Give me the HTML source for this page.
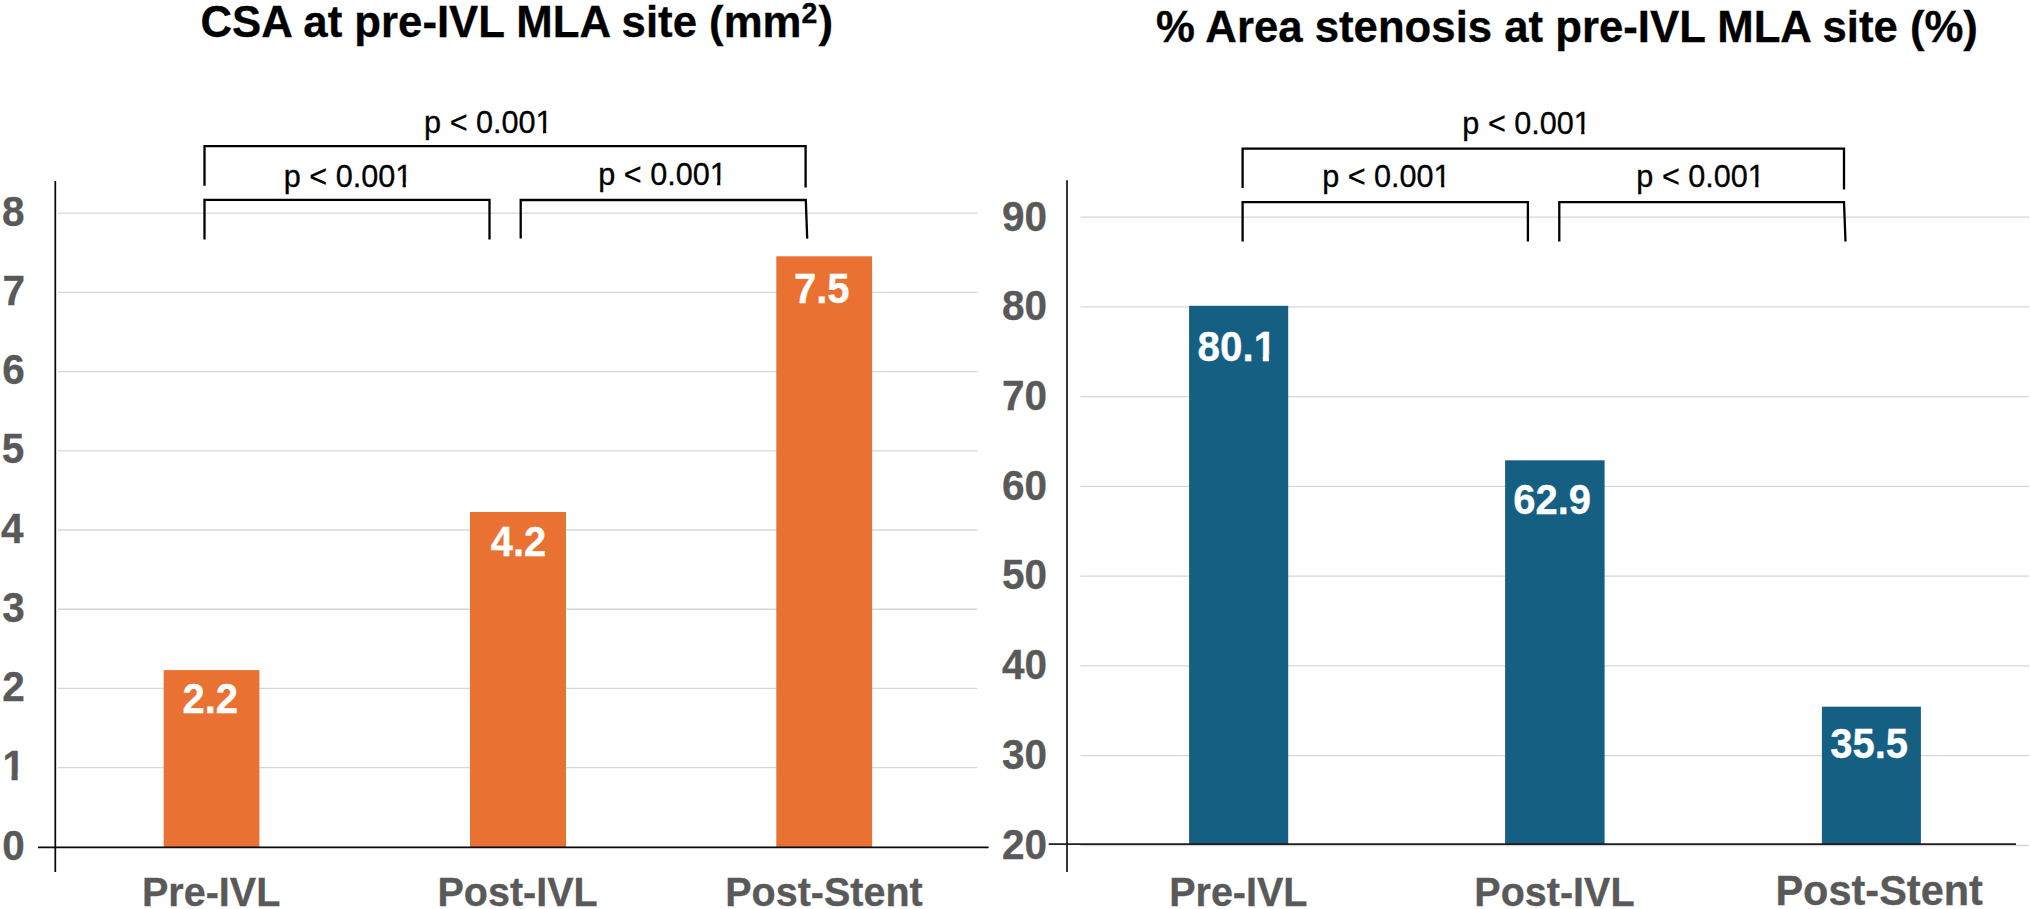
<!DOCTYPE html>
<html><head><meta charset="utf-8"><style>
html,body{margin:0;padding:0;background:#fff;width:2030px;height:909px;overflow:hidden}
svg{display:block}
text{font-family:"Liberation Sans",sans-serif}
</style></head><body>
<svg width="2030" height="909" viewBox="0 0 2030 909">
<rect x="0" y="0" width="2030" height="909" fill="#fff"/>
<line x1="58.00" y1="767.68" x2="977.40" y2="767.68" stroke="#D6D6D6" stroke-width="1.3"/>
<line x1="58.00" y1="688.46" x2="977.40" y2="688.46" stroke="#D6D6D6" stroke-width="1.3"/>
<line x1="58.00" y1="609.24" x2="977.40" y2="609.24" stroke="#D6D6D6" stroke-width="1.3"/>
<line x1="58.00" y1="530.02" x2="977.40" y2="530.02" stroke="#D6D6D6" stroke-width="1.3"/>
<line x1="58.00" y1="450.80" x2="977.40" y2="450.80" stroke="#D6D6D6" stroke-width="1.3"/>
<line x1="58.00" y1="371.58" x2="977.40" y2="371.58" stroke="#D6D6D6" stroke-width="1.3"/>
<line x1="58.00" y1="292.36" x2="977.40" y2="292.36" stroke="#D6D6D6" stroke-width="1.3"/>
<line x1="58.00" y1="213.14" x2="977.40" y2="213.14" stroke="#D6D6D6" stroke-width="1.3"/>
<g transform="translate(2.34,859.60) scale(1,1.04)"><text font-size="40.5" font-weight="700" fill="#595959" stroke="#595959" stroke-width="0.3">0</text></g>
<g transform="translate(2.41,779.90) scale(1,1.04)"><text font-size="40.5" font-weight="700" fill="#595959" stroke="#595959" stroke-width="0.3">1</text><rect x="1.05" y="-5.77" width="8.12" height="7.77" fill="#fff"/><rect x="15.25" y="-5.77" width="7.59" height="7.77" fill="#fff"/></g>
<g transform="translate(2.34,701.10) scale(1,1.04)"><text font-size="40.5" font-weight="700" fill="#595959" stroke="#595959" stroke-width="0.3">2</text></g>
<g transform="translate(2.14,621.85) scale(1,1.04)"><text font-size="40.5" font-weight="700" fill="#595959" stroke="#595959" stroke-width="0.3">3</text></g>
<g transform="translate(0.92,542.60) scale(1,1.04)"><text font-size="40.5" font-weight="700" fill="#595959" stroke="#595959" stroke-width="0.3">4</text></g>
<g transform="translate(1.84,463.35) scale(1,1.04)"><text font-size="40.5" font-weight="700" fill="#595959" stroke="#595959" stroke-width="0.3">5</text></g>
<g transform="translate(2.14,384.10) scale(1,1.04)"><text font-size="40.5" font-weight="700" fill="#595959" stroke="#595959" stroke-width="0.3">6</text></g>
<g transform="translate(2.44,304.85) scale(1,1.04)"><text font-size="40.5" font-weight="700" fill="#595959" stroke="#595959" stroke-width="0.3">7</text></g>
<g transform="translate(1.94,225.60) scale(1,1.04)"><text font-size="40.5" font-weight="700" fill="#595959" stroke="#595959" stroke-width="0.3">8</text></g>
<rect x="163.70" y="670.10" width="95.70" height="177.30" fill="#E97132"/>
<rect x="470.00" y="512.00" width="96.00" height="335.40" fill="#E97132"/>
<rect x="776.30" y="256.30" width="95.80" height="591.10" fill="#E97132"/>
<line x1="55.30" y1="181.00" x2="55.30" y2="872.10" stroke="#080808" stroke-width="1.75"/>
<line x1="38.00" y1="847.40" x2="988.60" y2="847.40" stroke="#080808" stroke-width="1.75"/>
<g transform="translate(182.45,712.90) scale(1,1.04)"><text font-size="40" font-weight="700" fill="#fff" stroke="#fff" stroke-width="0.3">2.2</text></g>
<g transform="translate(490.65,555.50) scale(1,1.04)"><text font-size="40" font-weight="700" fill="#fff" stroke="#fff" stroke-width="0.3">4.2</text></g>
<g transform="translate(794.00,302.90) scale(1,1.04)"><text font-size="40" font-weight="700" fill="#fff" stroke="#fff" stroke-width="0.3">7.5</text></g>
<g transform="translate(142.03,905.90) scale(1,1.04)"><text font-size="39.5" font-weight="700" fill="#595959" stroke="#595959" stroke-width="0.3">Pre-IVL</text></g>
<g transform="translate(437.52,905.90) scale(1,1.04)"><text font-size="39.5" font-weight="700" fill="#595959" stroke="#595959" stroke-width="0.3">Post-IVL</text></g>
<g transform="translate(725.26,905.90) scale(1,1.04)"><text font-size="39.5" font-weight="700" fill="#595959" stroke="#595959" stroke-width="0.3">Post-Stent</text></g>
<polyline points="204.50,185.80 204.50,146.20 805.60,146.20 805.60,187.60" fill="none" stroke="#000" stroke-width="2.3" stroke-linejoin="miter"/>
<polyline points="204.50,239.40 204.50,199.80 489.50,199.80 489.50,239.40" fill="none" stroke="#000" stroke-width="2.3" stroke-linejoin="miter"/>
<polyline points="520.70,238.60 520.70,200.00 805.80,200.00 807.20,238.60" fill="none" stroke="#000" stroke-width="2.3" stroke-linejoin="miter"/>
<g transform="translate(424.12,133.40) scale(1,1.04)"><text font-size="30.6" font-weight="400" fill="#000" stroke="#000" stroke-width="0.3">p &lt; 0.001</text><rect x="112.27" y="-3.93" width="6.58" height="5.93" fill="#fff"/><rect x="122.09" y="-3.93" width="6.34" height="5.93" fill="#fff"/></g>
<g transform="translate(283.77,186.60) scale(1,1.04)"><text font-size="30.6" font-weight="400" fill="#000" stroke="#000" stroke-width="0.3">p &lt; 0.001</text><rect x="112.27" y="-3.93" width="6.58" height="5.93" fill="#fff"/><rect x="122.09" y="-3.93" width="6.34" height="5.93" fill="#fff"/></g>
<g transform="translate(598.27,184.70) scale(1,1.04)"><text font-size="30.6" font-weight="400" fill="#000" stroke="#000" stroke-width="0.3">p &lt; 0.001</text><rect x="112.27" y="-3.93" width="6.58" height="5.93" fill="#fff"/><rect x="122.09" y="-3.93" width="6.34" height="5.93" fill="#fff"/></g>
<g transform="translate(200.45,36.50) scale(1,1.02)"><text font-size="43.75" font-weight="700" fill="#000" stroke="#000" stroke-width="0.3">CSA at pre-IVL MLA site (mm</text></g>
<g transform="translate(801.51,22.80) scale(1,1.04)"><text font-size="28.5" font-weight="700" fill="#000" stroke="#000" stroke-width="0.3">2</text></g>
<g transform="translate(818.52,36.50) scale(1,1.0)"><text font-size="43.75" font-weight="700" fill="#000" stroke="#000" stroke-width="0.3">)</text></g>
<line x1="1080.40" y1="755.70" x2="2029.00" y2="755.70" stroke="#D6D6D6" stroke-width="1.3"/>
<line x1="1080.40" y1="665.94" x2="2029.00" y2="665.94" stroke="#D6D6D6" stroke-width="1.3"/>
<line x1="1080.40" y1="576.18" x2="2029.00" y2="576.18" stroke="#D6D6D6" stroke-width="1.3"/>
<line x1="1080.40" y1="486.42" x2="2029.00" y2="486.42" stroke="#D6D6D6" stroke-width="1.3"/>
<line x1="1080.40" y1="396.66" x2="2029.00" y2="396.66" stroke="#D6D6D6" stroke-width="1.3"/>
<line x1="1080.40" y1="306.90" x2="2029.00" y2="306.90" stroke="#D6D6D6" stroke-width="1.3"/>
<line x1="1080.40" y1="217.14" x2="2029.00" y2="217.14" stroke="#D6D6D6" stroke-width="1.3"/>
<line x1="1080.40" y1="845.50" x2="2029.00" y2="845.50" stroke="#D6D6D6" stroke-width="1.3"/>
<g transform="translate(1002.07,858.50) scale(1,1.04)"><text font-size="40.5" font-weight="700" fill="#595959" stroke="#595959" stroke-width="0.3">20</text></g>
<g transform="translate(1002.07,768.80) scale(1,1.04)"><text font-size="40.5" font-weight="700" fill="#595959" stroke="#595959" stroke-width="0.3">30</text></g>
<g transform="translate(1002.07,679.10) scale(1,1.04)"><text font-size="40.5" font-weight="700" fill="#595959" stroke="#595959" stroke-width="0.3">40</text></g>
<g transform="translate(1002.07,589.40) scale(1,1.04)"><text font-size="40.5" font-weight="700" fill="#595959" stroke="#595959" stroke-width="0.3">50</text></g>
<g transform="translate(1002.07,499.70) scale(1,1.04)"><text font-size="40.5" font-weight="700" fill="#595959" stroke="#595959" stroke-width="0.3">60</text></g>
<g transform="translate(1002.07,410.00) scale(1,1.04)"><text font-size="40.5" font-weight="700" fill="#595959" stroke="#595959" stroke-width="0.3">70</text></g>
<g transform="translate(1002.07,320.30) scale(1,1.04)"><text font-size="40.5" font-weight="700" fill="#595959" stroke="#595959" stroke-width="0.3">80</text></g>
<g transform="translate(1002.07,230.60) scale(1,1.04)"><text font-size="40.5" font-weight="700" fill="#595959" stroke="#595959" stroke-width="0.3">90</text></g>
<rect x="1189.10" y="305.80" width="99.10" height="538.50" fill="#156082"/>
<rect x="1505.10" y="460.30" width="99.50" height="384.00" fill="#156082"/>
<rect x="1821.90" y="706.70" width="99.00" height="137.60" fill="#156082"/>
<line x1="1067.00" y1="180.20" x2="1067.00" y2="872.00" stroke="#1e1e1e" stroke-width="1.8"/>
<line x1="1048.70" y1="844.20" x2="2016.00" y2="844.20" stroke="#1e1e1e" stroke-width="1.8"/>
<g transform="translate(1197.49,361.30) scale(1,1.04)"><text font-size="40.4" font-weight="700" fill="#fff" stroke="#fff" stroke-width="0.3">80.1</text><rect x="57.21" y="-5.76" width="8.10" height="7.76" fill="#156082"/><rect x="71.38" y="-5.76" width="7.57" height="7.76" fill="#156082"/></g>
<g transform="translate(1513.15,514.30) scale(1,1.04)"><text font-size="40" font-weight="700" fill="#fff" stroke="#fff" stroke-width="0.3">62.9</text></g>
<g transform="translate(1830.20,758.00) scale(1,1.04)"><text font-size="40" font-weight="700" fill="#fff" stroke="#fff" stroke-width="0.3">35.5</text></g>
<g transform="translate(1169.18,905.60) scale(1,1.04)"><text font-size="39.5" font-weight="700" fill="#595959" stroke="#595959" stroke-width="0.3">Pre-IVL</text></g>
<g transform="translate(1474.37,905.60) scale(1,1.04)"><text font-size="39.5" font-weight="700" fill="#595959" stroke="#595959" stroke-width="0.3">Post-IVL</text></g>
<g transform="translate(1775.41,904.70) scale(1,1.04)"><text font-size="41.5" font-weight="700" fill="#595959" stroke="#595959" stroke-width="0.3">Post-Stent</text></g>
<polyline points="1242.60,187.90 1242.60,148.60 1844.00,148.60 1844.00,189.60" fill="none" stroke="#000" stroke-width="2.3" stroke-linejoin="miter"/>
<polyline points="1242.60,241.50 1242.60,202.20 1527.90,202.20 1527.90,241.50" fill="none" stroke="#000" stroke-width="2.3" stroke-linejoin="miter"/>
<polyline points="1559.30,241.50 1559.30,202.20 1844.00,202.20 1845.50,241.50" fill="none" stroke="#000" stroke-width="2.3" stroke-linejoin="miter"/>
<g transform="translate(1462.37,133.50) scale(1,1.04)"><text font-size="30.6" font-weight="400" fill="#000" stroke="#000" stroke-width="0.3">p &lt; 0.001</text><rect x="112.27" y="-3.93" width="6.58" height="5.93" fill="#fff"/><rect x="122.09" y="-3.93" width="6.34" height="5.93" fill="#fff"/></g>
<g transform="translate(1322.22,187.10) scale(1,1.04)"><text font-size="30.6" font-weight="400" fill="#000" stroke="#000" stroke-width="0.3">p &lt; 0.001</text><rect x="112.27" y="-3.93" width="6.58" height="5.93" fill="#fff"/><rect x="122.09" y="-3.93" width="6.34" height="5.93" fill="#fff"/></g>
<g transform="translate(1636.37,187.10) scale(1,1.04)"><text font-size="30.6" font-weight="400" fill="#000" stroke="#000" stroke-width="0.3">p &lt; 0.001</text><rect x="112.27" y="-3.93" width="6.58" height="5.93" fill="#fff"/><rect x="122.09" y="-3.93" width="6.34" height="5.93" fill="#fff"/></g>
<g transform="translate(1155.98,42.40) scale(1,1.02)"><text font-size="43.73" font-weight="700" fill="#000" stroke="#000" stroke-width="0.3">% Area stenosis at pre-IVL MLA site (%)</text></g>
</svg>
</body></html>
